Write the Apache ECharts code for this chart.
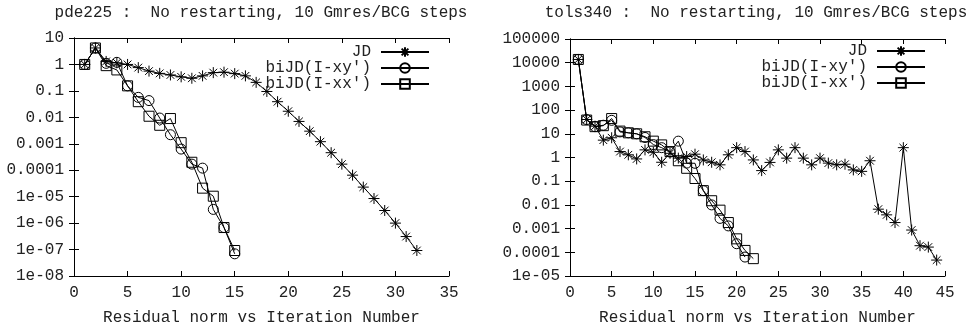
<!DOCTYPE html>
<html><head><meta charset="utf-8">
<script src="https://cdn.jsdelivr.net/npm/echarts@6/dist/echarts.min.js"></script>
<style>html,body{margin:0;padding:0;background:#fff}#c{width:971px;height:331px}</style>
</head><body><div id="c"></div>
<script>
// ---- data ----
const titleLeft = "pde225 :  No restarting, 10 Gmres/BCG steps";
const titleRight = "tols340 :  No restarting, 10 Gmres/BCG steps";
const xName = "Residual norm vs Iteration Number";
const seriesNames = ["JD", "biJD(I-xy')", "biJD(I-xx')"];

const pdeJD = [1.0, 4.2, 1.3, 1.15, 1.0, 0.76, 0.56, 0.46, 0.40, 0.34, 0.30, 0.37, 0.49, 0.51, 0.45, 0.37, 0.21, 0.095, 0.039, 0.017, 0.007, 0.003, 0.0012, 0.00046, 0.00017, 6.5e-5, 2.3e-5, 8.5e-6, 3.0e-6, 1.0e-6, 3.1e-7, 9.2e-8];
const pdeXY = [1.0, 4.2, 1.1, 1.2, 0.155, 0.057, 0.043, 0.0094, 0.0022, 0.00063, 0.00017, 0.00012, 3.3e-6, 6.8e-7, 6.9e-8];
const pdeXX = [1.0, 4.2, 0.9, 0.62, 0.155, 0.039, 0.011, 0.005, 0.009, 0.0011, 0.0002, 2.1e-5, 1.04e-5, 6.8e-7, 9.2e-8];

const tolsJD = [13700, 40, 21, 5.4, 6.8, 1.78, 1.3, 0.87, 2.1, 1.66, 0.63, 1.5, 0.94, 1.1, 1.38, 0.79, 0.63, 0.49, 1.3, 2.6, 1.78, 0.79, 0.28, 0.62, 2.1, 0.94, 2.6, 0.94, 0.49, 0.94, 0.58, 0.49, 0.52, 0.30, 0.26, 0.73, 0.0066, 0.0038, 0.0018, 2.6, 0.00087, 0.00019, 0.000166, 4.7e-5];
const tolsXY = [13700, 40, 20, 23, 37, 12, 11, 10, 7, 3.5, 2.6, 1.7, 4.9, 0.58, 0.57, 0.04, 0.01, 0.0027, 0.0013, 0.00023, 6.3e-5];
const tolsXX = [13700, 38, 20, 22, 44, 13, 11, 10, 7.5, 4.9, 3.4, 1.78, 0.73, 0.35, 0.13, 0.04, 0.015, 0.006, 0.0018, 0.00037, 0.00012, 5.4e-5];

const pdeYTicks = ["1e-08", "1e-07", "1e-06", "1e-05", "0.0001", "0.001", "0.01", "0.1", "1", "10"];
const tolsYTicks = ["1e-05", "0.0001", "0.001", "0.01", "0.1", "1", "10", "100", "1000", "10000", "100000"];
const pdeXTicks = ["0", "5", "10", "15", "20", "25", "30", "35"];
const tolsXTicks = ["0", "5", "10", "15", "20", "25", "30", "35", "40", "45"];

// ---- chart ----
const FONT = "'Liberation Mono', 'DejaVu Sans Mono', monospace";
const TXT = '#222';
const FS = 16;
const pairs = arr => arr.map((v, i) => [i + 1, v]);
const STAR = 'path://M0,-10L0,10M-10,0L10,0M-7,-7L7,7M-7,7L7,-7';

function mkSeries(data, kind, gi) {
  const base = {
    type: 'line', xAxisIndex: gi * 2, yAxisIndex: gi * 2, data: pairs(data),
    lineStyle: { color: '#000', width: 1 }, symbolSize: 10, animation: false,
    emphasis: { disabled: true }
  };
  if (kind === 0) {
    base.name = seriesNames[0]; base.symbol = STAR; base.symbolSize = 11;
    base.itemStyle = { color: '#000', borderColor: '#000', borderWidth: 1 };
  } else if (kind === 1) {
    base.name = seriesNames[1]; base.symbol = 'circle';
    base.itemStyle = { color: 'rgba(0,0,0,0)', borderColor: '#000', borderWidth: 1 };
  } else {
    base.name = seriesNames[2]; base.symbol = 'rect';
    base.itemStyle = { color: 'rgba(0,0,0,0)', borderColor: '#000', borderWidth: 1 };
  }
  return base;
}

function yLabelFn(ticks, minExp) {
  return v => {
    const e = Math.round(Math.log10(v));
    return ticks[e - minExp] !== undefined ? ticks[e - minExp] : '';
  };
}
function xLabelFn(ticks) {
  return v => { const i = Math.round(v / 5); return ticks[i] !== undefined ? ticks[i] : ''; };
}

const axisLine = { show: true, lineStyle: { color: '#000', width: 1 } };
const tickIn = { show: true, inside: true, length: 5, lineStyle: { color: '#000', width: 1 } };
const lbl = { color: TXT, fontFamily: FONT, fontSize: FS };

function xAxes(gi, max, ticks) {
  return [
    { type: 'value', gridIndex: gi, min: 0, max: max, interval: 5, position: 'bottom',
      axisLine, axisTick: tickIn, splitLine: { show: false },
      axisLabel: Object.assign({ margin: 9, formatter: xLabelFn(ticks) }, lbl),
      name: xName, nameLocation: 'middle', nameGap: 34,
      nameTextStyle: { color: TXT, fontFamily: FONT, fontSize: FS } },
    { type: 'value', gridIndex: gi, min: 0, max: max, interval: 5, position: 'top',
      axisLine, axisTick: tickIn, splitLine: { show: false }, axisLabel: { show: false } }
  ];
}
function yAxes(gi, min, max, ticks, minExp) {
  return [
    { type: 'log', logBase: 10, gridIndex: gi, min: min, max: max, interval: 1, position: 'left',
      axisLine, axisTick: tickIn, splitLine: { show: false },
      axisLabel: Object.assign({ margin: 10, formatter: yLabelFn(ticks, minExp) }, lbl) },
    { type: 'log', logBase: 10, gridIndex: gi, min: min, max: max, interval: 1, position: 'right',
      axisLine, axisTick: tickIn, splitLine: { show: false }, axisLabel: { show: false } }
  ];
}

const legendBase = {
  orient: 'vertical', align: 'right', itemWidth: 48, itemHeight: 12, itemGap: 0, padding: 0,
  textStyle: { color: TXT, fontFamily: FONT, fontSize: FS, lineHeight: 16, padding: [0, 5, 0, 0] },
  selectedMode: false
};

const option = {
  animation: false,
  title: [
    { text: titleLeft, left: 256, top: 0, textAlign: 'center',
      textStyle: { color: TXT, fontFamily: FONT, fontSize: FS, fontWeight: 'normal' } },
    { text: titleRight, left: 751, top: 0, textAlign: 'center',
      textStyle: { color: TXT, fontFamily: FONT, fontSize: FS, fontWeight: 'normal' } }
  ],
  grid: [
    { left: 74, top: 38, width: 375, height: 241 },
    { left: 570, top: 39, width: 375, height: 240 }
  ],
  legend: [
    Object.assign({ right: 541, top: 44, data: seriesNames }, legendBase),
    Object.assign({ right: 45, top: 43, data: seriesNames }, legendBase)
  ],
  xAxis: [].concat(xAxes(0, 35, pdeXTicks), xAxes(1, 45, tolsXTicks)),
  yAxis: [].concat(yAxes(0, 1e-8, 10, pdeYTicks, -8), yAxes(1, 1e-5, 1e5, tolsYTicks, -5)),
  series: [
    mkSeries(pdeJD, 0, 0), mkSeries(pdeXY, 1, 0), mkSeries(pdeXX, 2, 0),
    mkSeries(tolsJD, 0, 1), mkSeries(tolsXY, 1, 1), mkSeries(tolsXX, 2, 1)
  ]
};
const chart = echarts.init(document.getElementById('c'));
chart.setOption(option);
</script></body></html>
